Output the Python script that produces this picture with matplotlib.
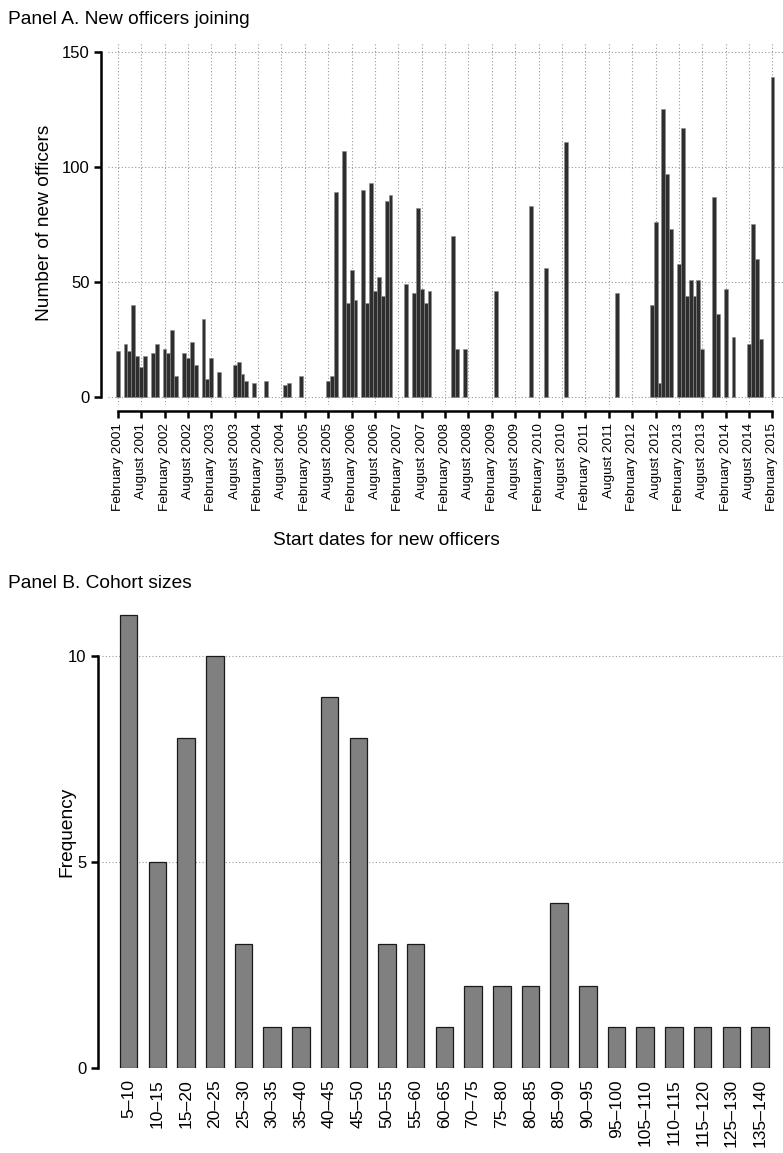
import numpy as np
import pandas as pd
import matplotlib
matplotlib.use("Agg")
import matplotlib.pyplot as plt

plt.rcParams['font.family'] = ['Liberation Sans', 'DejaVu Sans']

# Panel A: monthly intake of new officers (months with no intake omitted)
start_months = [
    "2001-02", "2001-04", "2001-05", "2001-06", "2001-07", "2001-08", "2001-09",
    "2001-11", "2001-12", "2002-02", "2002-03", "2002-04", "2002-05", "2002-07",
    "2002-08", "2002-09", "2002-10", "2002-12", "2003-01", "2003-02", "2003-04",
    "2003-08", "2003-09", "2003-10", "2003-11", "2004-01", "2004-04", "2004-09",
    "2004-10", "2005-01", "2005-08", "2005-09", "2005-10", "2005-12", "2006-01",
    "2006-02", "2006-03", "2006-05", "2006-06", "2006-07", "2006-08", "2006-09",
    "2006-10", "2006-11", "2006-12", "2007-04", "2007-06", "2007-07", "2007-08",
    "2007-09", "2007-10", "2008-04", "2008-05", "2008-07", "2009-03", "2009-12",
    "2010-04", "2010-09", "2011-10", "2012-07", "2012-08", "2012-09", "2012-10",
    "2012-11", "2012-12", "2013-02", "2013-03", "2013-04", "2013-05", "2013-06",
    "2013-07", "2013-08", "2013-11", "2013-12", "2014-02", "2014-04", "2014-08",
    "2014-09", "2014-10", "2014-11", "2015-02",
]
new_officers = [
    20, 23, 20, 40, 18, 13, 18,
    19, 23, 21, 19, 29, 9, 19,
    17, 24, 14, 34, 8, 17, 11,
    14, 15, 10, 7, 6, 7, 5,
    6, 9, 7, 9, 89, 107, 41,
    55, 42, 90, 41, 93, 46, 52,
    44, 85, 88, 49, 45, 82, 47,
    41, 46, 70, 21, 21, 46, 83,
    56, 111, 45, 40, 76, 6, 125,
    97, 73, 58, 117, 44, 51, 44,
    51, 21, 87, 36, 47, 26, 23,
    75, 60, 25, 139,
]

# Panel B: how many intakes fall into each cohort-size band
cohort_bands = [
    "5–10", "10–15", "15–20", "20–25", "25–30", "30–35", "35–40", "40–45",
    "45–50", "50–55", "55–60", "60–65", "70–75", "75–80", "80–85", "85–90",
    "90–95", "95–100", "105–110", "110–115", "115–120", "125–130", "135–140",
]
band_counts = [11, 5, 8, 10, 3, 1, 1, 9, 8, 3, 3, 1, 2, 2, 2, 4, 2, 1, 1, 1, 1, 1, 1]

first = pd.Period("2001-02", freq="M")
last = pd.Period("2015-02", freq="M")
month_idx = np.array([(pd.Period(m, freq="M") - first).n for m in start_months])
n_months = (last - first).n
tick_periods = pd.period_range(first, last, freq="M")[::6]
tick_pos = [(p - first).n for p in tick_periods]
tick_labels = [p.strftime("%B %Y") for p in tick_periods]

fig = plt.figure(figsize=(7.83, 11.53), dpi=100)
fs_lab = 13.8
fs_tick = 12
grid_kw = dict(color="#999999", linestyle=(0, (1, 2)), linewidth=0.8)

# ---- Panel A
ax1 = fig.add_axes([108 / 783, 1 - 405 / 1153, 675 / 783, 363.4 / 1153])
for s in ["top", "right"]:
    ax1.spines[s].set_visible(False)
ax1.spines["left"].set_position(("outward", 5))
ax1.spines["bottom"].set_position(("outward", 4))
ax1.bar(month_idx, new_officers, width=1.0, color="#2e2e2e",
        edgecolor="#8a8a8a", linewidth=0.4, zorder=3)
ax1.set_xlim(-2.5, n_months + 2.7)
ax1.set_ylim(-3.5, 154.5)
ax1.set_xticks(tick_pos)
ax1.set_xticklabels(tick_labels)
ax1.set_yticks([0, 50, 100, 150])
ax1.tick_params(axis="y", labelsize=fs_tick, length=5, width=1.8, pad=3)
ax1.tick_params(axis="x", labelsize=9.7, labelrotation=90, length=5,
                width=1.8, pad=4)
for y in [0, 50, 100, 150]:
    ax1.axhline(y, zorder=1, **grid_kw)
for x in tick_pos:
    ax1.axvline(x, zorder=1, **grid_kw)
ax1.spines["left"].set_bounds(0, 150)
ax1.spines["left"].set_linewidth(1.8)
ax1.spines["bottom"].set_bounds(0, n_months)
ax1.spines["bottom"].set_linewidth(1.8)
ax1.set_ylabel("Number of new officers", fontsize=fs_lab)
ax1.yaxis.set_label_coords((53 - 108) / 675, 0.5)
ax1.set_xlabel("Start dates for new officers", fontsize=fs_lab)
ax1.xaxis.set_label_coords((386 - 108) / 675, (405 - 532) / 363.4)
fig.text(8 / 783, 1 - 19 / 1153, "Panel A. New officers joining",
         fontsize=fs_lab, va="center", ha="left")

# ---- Panel B
ax2 = fig.add_axes([102 / 783, 1 - 1068 / 1153, 681 / 783, 472 / 1153])
for s in ["top", "right", "bottom"]:
    ax2.spines[s].set_visible(False)
ax2.spines["left"].set_position(("outward", 3))
xb = np.arange(len(cohort_bands))
ax2.bar(xb, band_counts, width=0.61, color="#808080", edgecolor="#1a1a1a",
        linewidth=0.9, zorder=3)
ax2.set_xlim(-0.93, len(cohort_bands) - 1 + 0.8)
ax2.set_ylim(0, 11.45)
ax2.set_xticks(xb)
ax2.set_xticklabels(cohort_bands)
ax2.tick_params(axis="x", labelsize=12.6, labelrotation=90, length=0, pad=8)
ax2.set_yticks([0, 5, 10])
ax2.tick_params(axis="y", labelsize=fs_tick, length=5, width=1.8, pad=3)
for y in [0, 5, 10]:
    ax2.axhline(y, zorder=1, **grid_kw)
ax2.spines["left"].set_bounds(0, 10)
ax2.spines["left"].set_linewidth(1.8)
ax2.set_ylabel("Frequency", fontsize=fs_lab)
ax2.yaxis.set_label_coords((75 - 102) / 681, 0.5)
fig.text(8 / 783, 1 - 583 / 1153, "Panel B. Cohort sizes",
         fontsize=fs_lab, va="center", ha="left")

fig.savefig("out.png", dpi=100)
